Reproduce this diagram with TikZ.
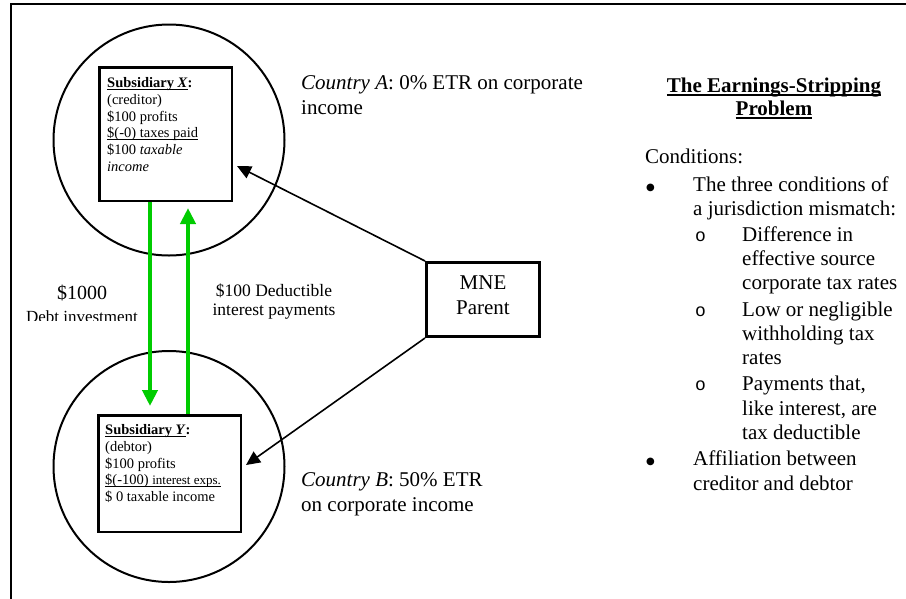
\documentclass[tikz,border=0pt]{standalone}
\usepackage{fontspec}
\setmainfont{Liberation Serif}
\newfontfamily\monofnt{Liberation Mono}
\newfontfamily\symfnt{DejaVu Sans}
\usetikzlibrary{arrows.meta,calc}
\definecolor{arrowgreen}{RGB}{0,204,0}
\newcommand{\subbul}{{\monofnt\fontsize{18}{18}\selectfont o}}
\newcommand{\bigbul}{\raisebox{1pt}{\symfnt\fontsize{10}{10}\selectfont ●}}
\newcommand{\ulin}[1]{\setbox0\hbox{#1}\rlap{\rule[-2pt]{\wd0}{0.9pt}}\box0}
\newcommand{\ultitle}[1]{\setbox0\hbox{#1}\rlap{\rule[-3.6pt]{\wd0}{1.5pt}}\box0}
\tikzset{
  country/.style={circle,draw,line width=2pt,minimum size=231pt,inner sep=0pt},
  subbox/.style={draw,line width=2.5pt,inner sep=0pt},
  boxtext/.style={anchor=north west,inner sep=0pt,align=left,font=\fontsize{14.5}{16.7}\selectfont},
  bigtext/.style={inner sep=0pt,align=left,font=\fontsize{21}{24.5}\selectfont},
  blackarrow/.style={line width=1.6pt,-{Triangle[length=14pt,width=13pt]}},
  greenarrow/.style={draw=arrowgreen,line width=4pt,-{Triangle[length=16pt,width=15pt]},arrowgreen},
}
\begin{document}
\begin{tikzpicture}[x=1pt,y=-1pt]
\useasboundingbox (0,0) rectangle (906,598);
\clip (0,0) rectangle (906,598);
\fill[white] (0,0) rectangle (906,598);
\draw[line width=2pt] (10.5,4) rectangle (930,630);

% countries
\node[country] (circA) at (169,140) {};
\node[country] (circB) at (169,466.5) {};

% subsidiaries
\node[subbox,minimum width=132.5pt,minimum height=133.5pt] (boxX) at (165.5,134) {};
\node[subbox,minimum width=142.5pt,minimum height=116.5pt] (boxY) at (169.5,473.5) {};

\node[boxtext] (txtX) at (107,77.5) {\ulin{\textbf{Subsidiary \textit{X}}}\textbf{:}\\(creditor)\\\$100 profits\\\ulin{\$(-0) taxes paid}\\\$100 \textit{taxable}\\\textit{income}};
\node[boxtext] (txtY) at (105,424.5) {\ulin{\textbf{Subsidiary \textit{Y}}}\textbf{:}\\(debtor)\\\$100 profits\\\ulin{\$(-100) {\fontsize{13}{14}\selectfont interest exps.}}\\\$ 0 taxable income};

% parent
\node[draw,line width=3pt,minimum width=113pt,minimum height=74pt,inner sep=0pt] (mne) at (483,299.5) {};
\node[inner sep=0pt,align=center,font=\fontsize{21}{25}\selectfont] (mnelbl) at ($(mne.center)+(0,-4)$) {MNE\\Parent};

% green flows
\draw[greenarrow] ($(boxX.south)+(-15.5,0)$) -- ($(boxY.north)+(-19.5,-8)$);
\draw[greenarrow] ($(boxY.north)+(18.5,0)$) -- ($(boxX.south)+(22.5,6)$);

% ownership
\draw[blackarrow] (mne.north west) -- ($(boxX.east)+(4,32)$);
\draw[blackarrow] (mne.south west) -- ($(boxY.east)+(4,-8.5)$);

% flow labels
\node[inner sep=0pt,font=\fontsize{20}{24}\selectfont] (debtamt) at (82,293) {\$1000};
\begin{scope}
\clip (20,300) rectangle (145,320);
\node[inner sep=0pt,font=\fontsize{17}{20}\selectfont] (debtlbl) at (82,316.5) {Debt investment};
\end{scope}
\node[inner sep=0pt,align=center,font=\fontsize{17.5}{19.5}\selectfont] (intlbl) at (274,301.5) {\$100 Deductible\\interest payments};

% country labels
\node[bigtext,anchor=north west] (ctryA) at (301,75.5) {\textit{Country A}: 0\% ETR on corporate\\income};
\node[bigtext,anchor=north west] (ctryB) at (301,472.5) {\textit{Country B}: 50\% ETR\\on corporate income};

% right panel
\node[inner sep=0pt,align=center,font=\fontsize{21}{23}\selectfont\bfseries,anchor=north] (title) at (774,77.5) {\ultitle{The Earnings-Stripping}\\\ultitle{Problem}};
\node[bigtext,anchor=north west,font=\fontsize{21}{24.3}\selectfont] (conds) at (645,148.5) {Conditions:\\[3.5pt]
\makebox[48pt][l]{\hspace*{1pt}\bigbul}The three conditions of\\
\hspace*{48pt}a jurisdiction mismatch:\\[1.5pt]
\hspace*{50pt}\makebox[47pt][l]{\subbul}Difference in\\
\hspace*{97pt}effective source\\
\hspace*{97pt}corporate tax rates\\[2pt]
\hspace*{50pt}\makebox[47pt][l]{\subbul}Low or negligible\\
\hspace*{97pt}withholding tax\\
\hspace*{97pt}rates\\[2pt]
\hspace*{50pt}\makebox[47pt][l]{\subbul}Payments that,\\
\hspace*{97pt}like interest, are\\
\hspace*{97pt}tax deductible\\[2pt]
\makebox[48pt][l]{\hspace*{1pt}\bigbul}Affiliation between\\
\hspace*{48pt}creditor and debtor};
\end{tikzpicture}
\end{document}
